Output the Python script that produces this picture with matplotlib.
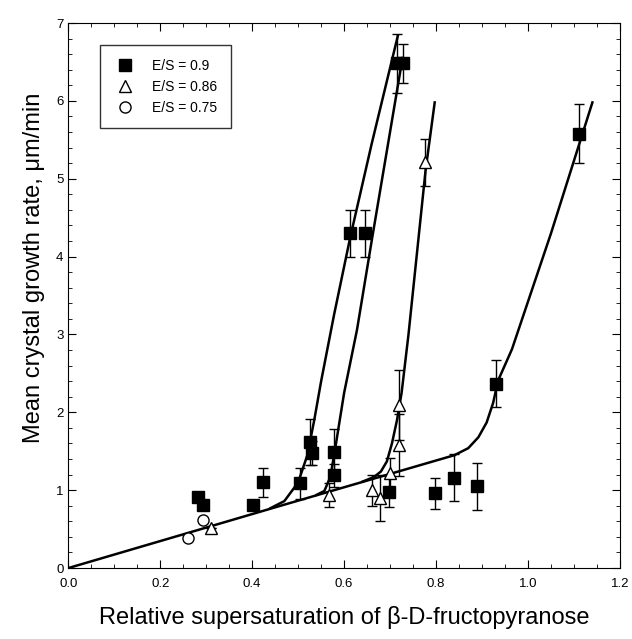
import numpy as np
import matplotlib.pyplot as plt
from matplotlib.ticker import MultipleLocator
from matplotlib.lines import Line2D

plt.rcParams['font.family'] = ['Liberation Sans', 'DejaVu Sans']

# E/S = 0.9 (filled squares)
sq_x = [0.283, 0.292, 0.402, 0.423, 0.503, 0.525, 0.530, 0.579, 0.579, 0.613, 0.646,
        0.698, 0.715, 0.727, 0.797, 0.838, 0.890, 0.931, 1.110]
sq_y = [0.91, 0.81, 0.81, 1.10, 1.09, 1.62, 1.48, 1.49, 1.19, 4.30, 4.30,
        0.98, 6.48, 6.48, 0.96, 1.16, 1.05, 2.37, 5.58]
sq_err = [0.0, 0.0, 0.05, 0.19, 0.2, 0.3, 0.15, 0.3, 0.15, 0.3, 0.3,
          0.2, 0.38, 0.25, 0.2, 0.3, 0.3, 0.3, 0.38]

# E/S = 0.86 (open triangles)
tri_x = [0.311, 0.568, 0.661, 0.678, 0.700, 0.719, 0.719, 0.775]
tri_y = [0.51, 0.94, 1.00, 0.90, 1.22, 2.09, 1.58, 5.21]
tri_err = [0.0, 0.15, 0.2, 0.3, 0.2, 0.45, 0.4, 0.3]

# E/S = 0.75 (open circles)
circ_x = [0.261, 0.294]
circ_y = [0.39, 0.62]

# fitted growth-rate curves
base_x = [0.0, 0.45, 0.84]
base_y = [0.0, 0.78, 1.45]
tail_x = [0.84, 0.87, 0.892, 0.91, 0.924, 0.935, 0.965, 1.05, 1.14]
tail_y = [1.45, 1.54, 1.68, 1.87, 2.12, 2.41, 2.81, 4.30, 5.98]
left_x = [0.44, 0.47, 0.50, 0.52, 0.535, 0.55, 0.578, 0.613, 0.66, 0.717]
left_y = [0.77, 0.86, 1.10, 1.45, 1.90, 2.40, 3.25, 4.24, 5.45, 6.84]
right_x = [0.54, 0.557, 0.570, 0.581, 0.600, 0.628, 0.661, 0.727]
right_y = [0.94, 0.99, 1.17, 1.55, 2.25, 3.06, 4.24, 6.55]
tri_line_x = [0.64, 0.665, 0.68, 0.693, 0.704, 0.715, 0.725, 0.74, 0.777, 0.797]
tri_line_y = [1.11, 1.17, 1.24, 1.37, 1.60, 1.90, 2.25, 3.00, 5.10, 5.98]

fig = plt.figure(figsize=(6.32, 6.39), dpi=100)
ax = fig.add_axes([0.108, 0.111, 0.873, 0.853])

for xs, ys in [(base_x, base_y), (tail_x, tail_y), (left_x, left_y),
               (right_x, right_y), (tri_line_x, tri_line_y)]:
    ax.plot(xs, ys, color='black', lw=1.8, zorder=2)

ax.errorbar(sq_x, sq_y, yerr=sq_err, fmt='s', color='black', ms=8,
            ecolor='black', elinewidth=1, capsize=3.5, zorder=3)
ax.errorbar(tri_x, tri_y, yerr=tri_err, fmt='^', mfc='white', mec='black', ms=8,
            ecolor='black', elinewidth=1, capsize=3.5, zorder=3)
ax.plot(circ_x, circ_y, 'o', mfc='white', mec='black', ms=8, zorder=3)

ax.set_xlim(0, 1.2)
ax.set_ylim(0, 7)
ax.xaxis.set_major_locator(MultipleLocator(0.2))
ax.xaxis.set_minor_locator(MultipleLocator(0.05))
ax.yaxis.set_major_locator(MultipleLocator(1))
ax.yaxis.set_minor_locator(MultipleLocator(0.2))
ax.set_xticklabels([f'{v:.1f}' for v in ax.get_xticks()])
ax.tick_params(which='both', direction='in', top=True, right=True, labelsize=9.5)
ax.tick_params(axis='x', pad=7)
ax.tick_params(which='major', length=6)
ax.tick_params(which='minor', length=3)

ax.set_xlabel('Relative supersaturation of β-D-fructopyranose', fontsize=17, labelpad=12)
ax.set_ylabel('Mean crystal growth rate, μm/min', fontsize=17)
ax.yaxis.set_label_coords(-0.042, 0.55)

handles = [
    Line2D([], [], ls='none', marker='s', color='black', ms=8),
    Line2D([], [], ls='none', marker='^', mfc='white', mec='black', ms=8),
    Line2D([], [], ls='none', marker='o', mfc='white', mec='black', ms=8),
]
labels = ['E/S = 0.9', 'E/S = 0.86', 'E/S = 0.75']
leg = ax.legend(handles, labels, loc='upper left', bbox_to_anchor=(0.058, 0.96),
                fontsize=10, frameon=True, fancybox=False, edgecolor='black',
                handlelength=1.5, handletextpad=1.2, borderpad=1.0,
                labelspacing=0.5, borderaxespad=0)
leg.get_frame().set_linewidth(1.0)

fig.savefig('out.png', dpi=100)
